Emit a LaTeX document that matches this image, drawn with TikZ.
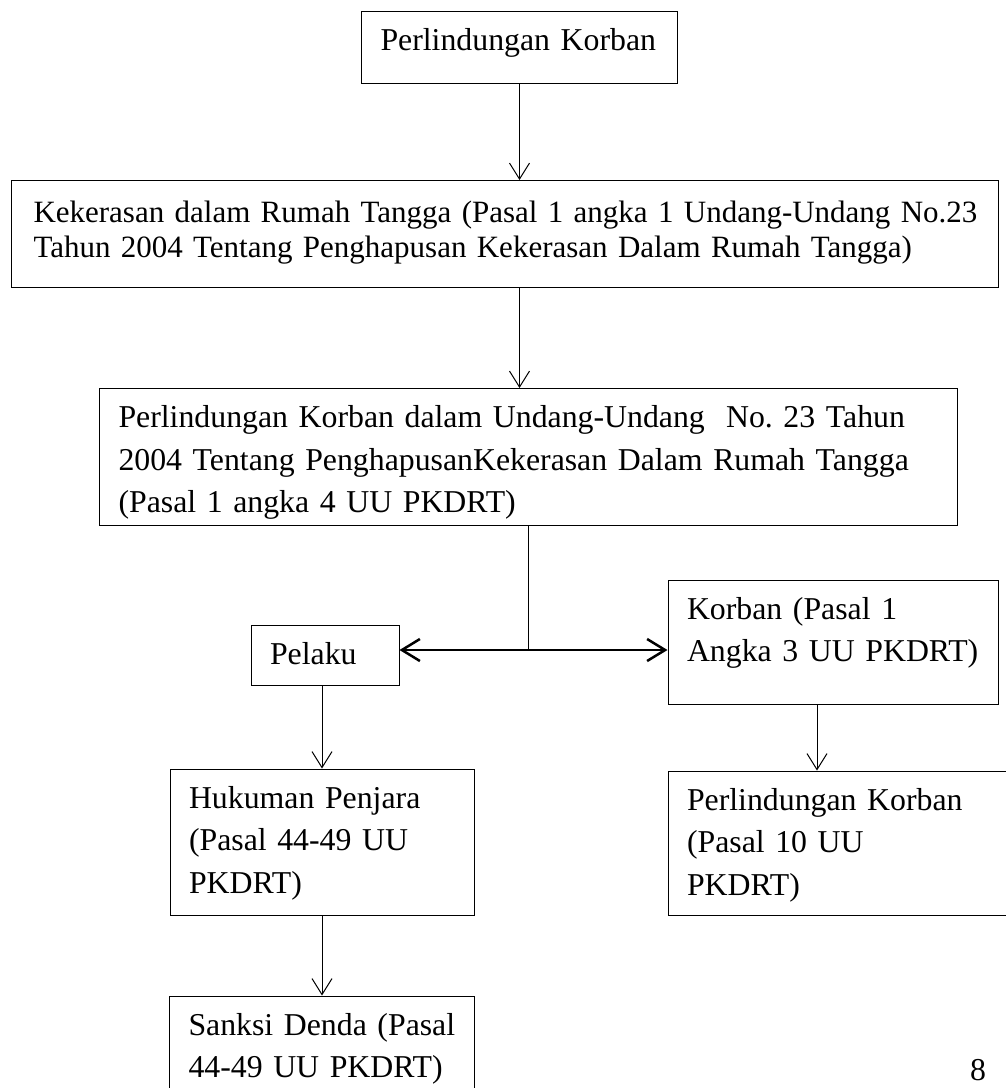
\documentclass[tikz,border=0pt]{standalone}
\usepackage{fontspec}
\setmainfont{Liberation Serif}
\usetikzlibrary{arrows.meta,positioning}
\tikzset{
  >={Straight Barb[length=16pt,width=20pt]},
  font=\fontsize{31.8}{42.5}\selectfont\frenchspacing,
  box/.style={draw,line width=1pt,rectangle,align=left,inner xsep=19pt,
              inner ysep=0pt,text height=39pt},
  flow/.style={->,line width=1pt},
  branch/.style={<->,line width=2.5pt,>={Straight Barb[length=18pt,width=22pt]}},
  pagenum/.style={inner sep=0pt},
}
\begin{document}
\begin{tikzpicture}[x=1pt,y=-1pt]
  \useasboundingbox (0,0) rectangle (1005,1088);
  \node[box,anchor=north west,text width=278pt,text depth=33pt] (top) at (361,11)
    {Perlindungan Korban};
  \node[box,below=96pt of top,xshift=-14.5pt,inner xsep=22pt,text width=943pt,
        text height=42pt,text depth=65pt,font=\fontsize{31}{35}\selectfont\frenchspacing] (kdrt)
    {\mbox{Kekerasan dalam Rumah Tangga (Pasal 1 angka 1 Undang-Undang No.23}\\
     Tahun 2004 Tentang Penghapusan Kekerasan Dalam Rumah Tangga)};
  \node[box,below=100pt of kdrt,xshift=23.5pt,text width=820pt,text depth=98pt] (uu)
    {Perlindungan Korban dalam Undang-Undang\ \ No. 23 Tahun\\
     2004 Tentang PenghapusanKekerasan Dalam Rumah Tangga\\
     (Pasal 1 angka 4 UU PKDRT)};

  % split into pelaku / korban
  \coordinate[below=124pt of uu] (fork);
  \node[box,left=129pt of fork,yshift=-5pt,text width=110pt,text depth=21pt] (pelaku)
    {Pelaku};
  \node[box,right=139pt of fork,yshift=8pt,text width=292pt,text depth=85pt] (korban)
    {Korban (Pasal 1\\Angka 3 UU PKDRT)};
  \node[box,below=83pt of pelaku,xshift=-3pt,text width=266pt,text depth=107pt] (penjara)
    {Hukuman Penjara\\(Pasal 44-49 UU\\PKDRT)};
  \node[box,below=80pt of penjara,text width=267pt,text depth=120pt] (denda)
    {Sanksi Denda (Pasal\\44-49 UU PKDRT)};
  \node[box,below=66pt of korban.south west,anchor=north west,text width=320pt,
        text depth=105pt] (lindung)
    {Perlindungan Korban\\(Pasal 10 UU\\PKDRT)};
  \node[pagenum,anchor=base] (page) at (978,1080) {8};

  \draw[flow] (top) -- (top |- kdrt.north);
  \draw[flow] (kdrt.south -| top) -- (uu.north -| top);
  \draw[line width=1pt] (uu.south) -- (fork);
  \draw[branch] (pelaku.east |- fork) -- (korban.west |- fork);
  \draw[flow] (penjara.north |- pelaku.south) -- (penjara.north);
  \draw[flow] (penjara.south) -- (penjara.south |- denda.north);
  \draw[flow] ([xshift=-16pt]korban.south) -- ([xshift=-16pt]korban.south |- lindung.north);
\end{tikzpicture}
\end{document}
